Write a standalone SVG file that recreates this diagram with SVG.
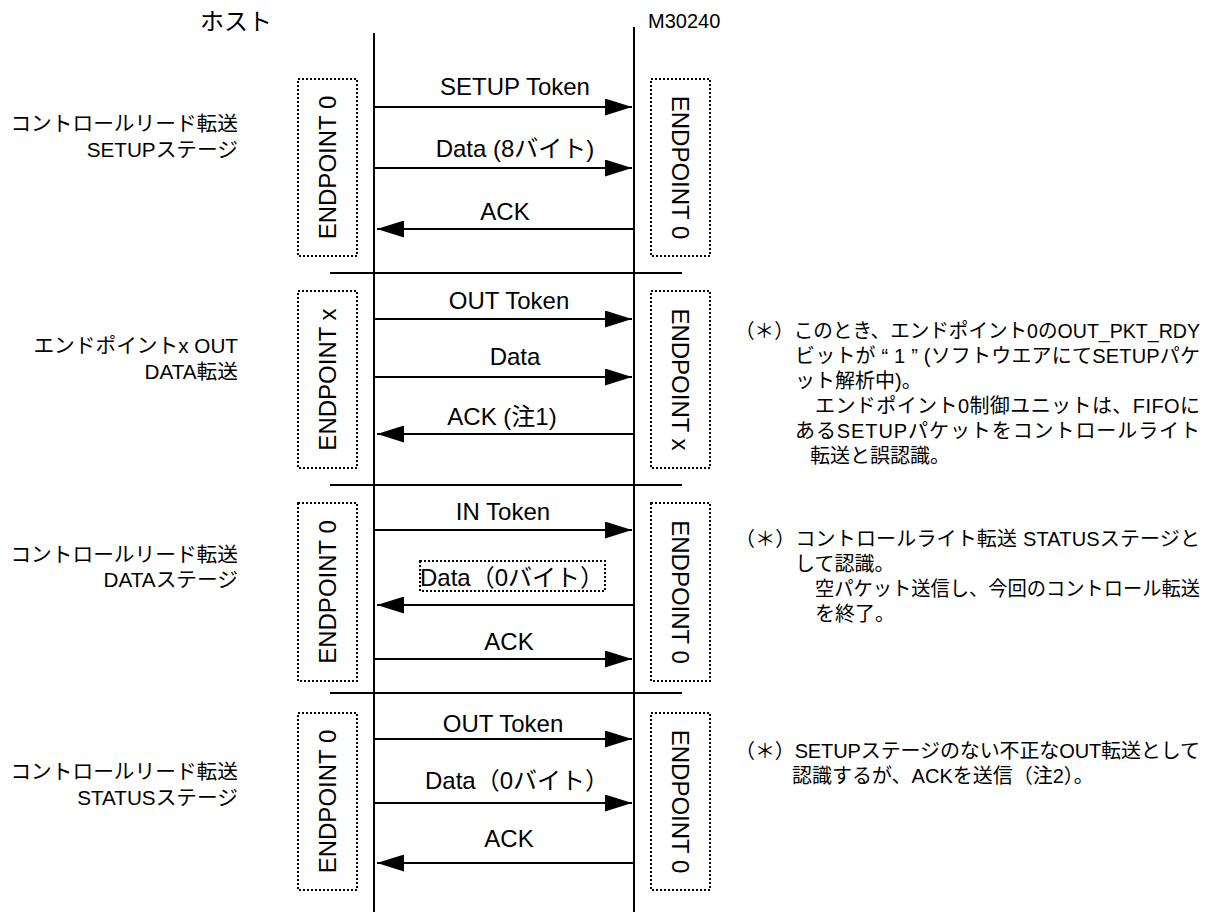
<svg xmlns="http://www.w3.org/2000/svg" width="1228" height="912" viewBox="0 0 1228 912">
  <style>
    text { font-family: "Liberation Sans", "Noto Sans CJK JP", sans-serif; fill: #000; }
    .hdr { font-size: 24px; }
    .dev { font-size: 20px; }
    .lbl { font-size: 24px; text-anchor: middle; }
    .ep { font-size: 24px; text-anchor: middle; }
    .side { font-size: 20.7px; text-anchor: end; }
    .note { font-size: 20px; }
    .life { stroke: #000; stroke-width: 2; }
    .sep { stroke: #000; stroke-width: 2; }
    .msg { stroke: #000; stroke-width: 2; fill: none; }
    .dot { fill: none; stroke: #000; stroke-width: 2; stroke-dasharray: 2 2; }
  </style>
  <defs>
    <marker id="head" viewBox="0 0 27 17" refX="27" refY="8.5" markerWidth="27" markerHeight="17" markerUnits="userSpaceOnUse" orient="auto">
      <path d="M0,0 L27,8.5 L0,17 Z" fill="#000"/>
    </marker>
  </defs>
  <rect width="1228" height="912" fill="#fff"/>

  <!-- participants -->
  <g id="host">
    <text class="hdr" x="236" y="30" text-anchor="middle">ホスト</text>
    <line class="life" x1="374" y1="33" x2="374" y2="912"/>
  </g>
  <g id="device">
    <text class="dev" x="648" y="28">M30240</text>
    <line class="life" x1="634" y1="27" x2="634" y2="912"/>
  </g>

  <!-- stage separators -->
  <g id="separators">
    <line class="sep" x1="330" y1="273" x2="682" y2="273"/>
    <line class="sep" x1="330" y1="485" x2="682" y2="485"/>
    <line class="sep" x1="330" y1="693" x2="682" y2="693"/>
  </g>

  <!-- stage 1: control read, SETUP stage -->
  <g id="stage-setup">
    <text class="side" x="238" y="131">コントロールリード転送</text>
    <text class="side" x="238" y="157">SETUPステージ</text>
    <rect class="dot" x="298" y="79" width="59" height="177"/>
    <text class="ep" transform="translate(336,167.5) rotate(-90)">ENDPOINT 0</text>
    <rect class="dot" x="651" y="79" width="59" height="177"/>
    <text class="ep" transform="translate(672,167.5) rotate(90)">ENDPOINT 0</text>
  </g>

  <!-- stage 2: endpoint x OUT data -->
  <g id="stage-out-data">
    <text class="side" x="238" y="353">エンドポイントx OUT</text>
    <text class="side" x="238" y="379">DATA転送</text>
    <rect class="dot" x="298" y="291" width="59" height="177"/>
    <text class="ep" transform="translate(336,379.5) rotate(-90)">ENDPOINT x</text>
    <rect class="dot" x="651" y="291" width="59" height="177"/>
    <text class="ep" transform="translate(672,379.5) rotate(90)">ENDPOINT x</text>
    <text class="note" x="735" y="338" textLength="465" lengthAdjust="spacingAndGlyphs">（＊）このとき、エンドポイント0のOUT_PKT_RDY</text>
    <text class="note" x="795" y="363" textLength="405" lengthAdjust="spacing">ビットが “ 1 ” (ソフトウエアにてSETUPパケ</text>
    <text class="note" x="795" y="388">ット解析中)。</text>
    <text class="note" x="815" y="413" textLength="385" lengthAdjust="spacing">エンドポイント0制御ユニットは、FIFOに</text>
    <text class="note" x="795" y="438" textLength="405" lengthAdjust="spacing">あるSETUPパケットをコントロールライト</text>
    <text class="note" x="810" y="463">転送と誤認識。</text>
  </g>

  <!-- stage 3: control read, DATA stage -->
  <g id="stage-data">
    <text class="side" x="238" y="562">コントロールリード転送</text>
    <text class="side" x="238" y="587">DATAステージ</text>
    <rect class="dot" x="298" y="503" width="59" height="178"/>
    <text class="ep" transform="translate(336,592) rotate(-90)">ENDPOINT 0</text>
    <rect class="dot" x="651" y="503" width="59" height="178"/>
    <text class="ep" transform="translate(672,592) rotate(90)">ENDPOINT 0</text>
    <text class="note" x="735" y="546" textLength="465" lengthAdjust="spacing">（＊）コントロールライト転送 STATUSステージと</text>
    <text class="note" x="795" y="571">して認識。</text>
    <text class="note" x="815" y="596" textLength="385" lengthAdjust="spacingAndGlyphs">空パケット送信し、今回のコントロール転送</text>
    <text class="note" x="815" y="621">を終了。</text>
  </g>

  <!-- stage 4: control read, STATUS stage -->
  <g id="stage-status">
    <text class="side" x="238" y="779">コントロールリード転送</text>
    <text class="side" x="238" y="805">STATUSステージ</text>
    <rect class="dot" x="298" y="713" width="59" height="177"/>
    <text class="ep" transform="translate(336,801.5) rotate(-90)">ENDPOINT 0</text>
    <rect class="dot" x="651" y="713" width="59" height="177"/>
    <text class="ep" transform="translate(672,801.5) rotate(90)">ENDPOINT 0</text>
    <text class="note" x="735" y="758" textLength="465" lengthAdjust="spacing">（＊）SETUPステージのない不正なOUT転送として</text>
    <text class="note" x="792" y="783">認識するが、ACKを送信（注2）。</text>
  </g>

  <!-- messages -->
  <g id="connectors">
    <line class="msg" x1="374" y1="107" x2="632" y2="107" marker-end="url(#head)"/>
    <text class="lbl" x="515" y="95">SETUP Token</text>
    <line class="msg" x1="374" y1="168" x2="632" y2="168" marker-end="url(#head)"/>
    <text class="lbl" x="515" y="157">Data (8バイト)</text>
    <line class="msg" x1="634" y1="229" x2="377" y2="229" marker-end="url(#head)"/>
    <text class="lbl" x="505" y="220">ACK</text>

    <line class="msg" x1="374" y1="319" x2="632" y2="319" marker-end="url(#head)"/>
    <text class="lbl" x="509" y="309">OUT Token</text>
    <line class="msg" x1="374" y1="377" x2="632" y2="377" marker-end="url(#head)"/>
    <text class="lbl" x="515" y="365">Data</text>
    <line class="msg" x1="634" y1="434" x2="377" y2="434" marker-end="url(#head)"/>
    <text class="lbl" x="502" y="425">ACK (注1)</text>

    <line class="msg" x1="374" y1="530" x2="632" y2="530" marker-end="url(#head)"/>
    <text class="lbl" x="503" y="520">IN Token</text>
    <line class="msg" x1="634" y1="605" x2="377" y2="605" marker-end="url(#head)"/>
    <rect class="dot" x="420" y="561" width="185" height="30"/>
    <text class="lbl" x="512" y="586">Data（0バイト）</text>
    <line class="msg" x1="374" y1="659" x2="632" y2="659" marker-end="url(#head)"/>
    <text class="lbl" x="509" y="650">ACK</text>

    <line class="msg" x1="374" y1="739" x2="632" y2="739" marker-end="url(#head)"/>
    <text class="lbl" x="503" y="732">OUT Token</text>
    <line class="msg" x1="374" y1="803" x2="632" y2="803" marker-end="url(#head)"/>
    <text class="lbl" x="517" y="789">Data（0バイト）</text>
    <line class="msg" x1="634" y1="863" x2="377" y2="863" marker-end="url(#head)"/>
    <text class="lbl" x="509" y="847">ACK</text>
  </g>
</svg>
